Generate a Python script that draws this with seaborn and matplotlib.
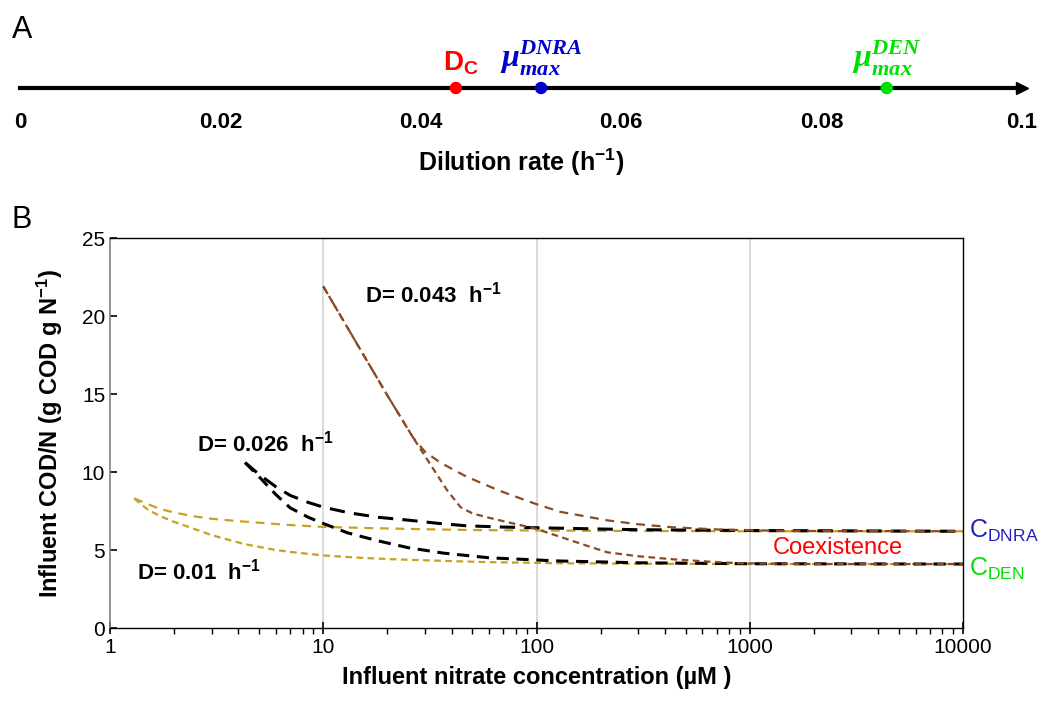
import numpy as np
import pandas as pd
import seaborn as sns
import matplotlib.pyplot as plt
from matplotlib.ticker import LogLocator, NullFormatter

# panel A: dilution rate axis
a_ticks = [0, 0.02, 0.04, 0.06, 0.08, 0.1]
a_tick_labels = ["0", "0.02", "0.04", "0.06", "0.08", "0.1"]
a_points = [0.0435, 0.052, 0.0865]
a_point_colors = ["#ff0000", "#0000cc", "#00e000"]
a_point_labels = [r"$\mathbf{D_C}$", r"$\mathbfit{\mu}_{\mathbfit{max}}^{\mathbfit{DNRA}}$",
                  r"$\mathbfit{\mu}_{\mathbfit{max}}^{\mathbfit{DEN}}$"]

# panel B: curves (upper branch -> C_DNRA, lower branch -> C_DEN)
x_d001_up = [1.3, 1.5, 1.7, 2, 2.5, 3, 4, 5, 7, 10, 20, 30, 50, 100, 300, 1000, 10000]
y_d001_up = [8.3, 7.95, 7.65, 7.4, 7.15, 7.0, 6.85, 6.75, 6.6, 6.48, 6.38, 6.33, 6.28, 6.25, 6.22, 6.2, 6.2]
x_d001_lo = [1.3, 1.5, 1.7, 2, 2.37, 3, 3.5, 4.2, 5, 6, 7, 10, 15, 20, 37, 60, 125, 300, 1000, 10000]
y_d001_lo = [8.3, 7.6, 7.2, 6.8, 6.45, 5.95, 5.7, 5.4, 5.2, 5.0, 4.88, 4.65, 4.5, 4.42, 4.3, 4.22, 4.15, 4.12, 4.1, 4.1]

x_d026_up = [4.3, 5, 6, 7, 8.5, 10, 13, 18, 25.6, 35, 47, 70, 125, 300, 1000, 10000]
y_d026_up = [10.6, 9.85, 9.05, 8.5, 8.05, 7.75, 7.4, 7.1, 6.9, 6.7, 6.55, 6.47, 6.4, 6.3, 6.25, 6.2]
x_d026_lo = [4.3, 5, 6, 7, 8.5, 10, 13, 17.9, 25, 36.6, 60, 125, 300, 1000, 10000]
y_d026_lo = [10.6, 9.7, 8.55, 7.7, 7.1, 6.7, 6.1, 5.6, 5.15, 4.8, 4.5, 4.3, 4.18, 4.12, 4.1]

x_d043_up = [10, 15, 20, 26.4, 30, 35.4, 47, 67, 97, 129, 215, 300, 440, 750, 1500, 10000]
y_d043_up = [21.9, 17.8, 14.9, 12.2, 11.3, 10.6, 9.7, 8.8, 8.0, 7.45, 6.9, 6.65, 6.45, 6.3, 6.22, 6.2]
x_d043_lo = [10, 15, 20, 26.4, 32.8, 38, 44, 50, 58.5, 75, 97, 129, 170, 215, 300, 440, 650, 900, 2000, 10000]
y_d043_lo = [21.9, 17.8, 14.9, 12.2, 10.2, 8.85, 7.75, 7.35, 7.1, 6.75, 6.4, 5.85, 5.3, 4.85, 4.6, 4.4, 4.25, 4.15, 4.1, 4.1]

curve_colors = {"0.01": "#c9a020", "0.026": "#000000", "0.043": "#8b4a22"}

sns.set_theme(style="white", rc={"text.color": "black", "axes.labelcolor": "black",
                                 "xtick.color": "black", "ytick.color": "black"})
plt.rcParams["font.family"] = ["Liberation Sans", "DejaVu Sans"]
plt.rcParams["mathtext.fontset"] = "custom"
plt.rcParams["mathtext.rm"] = "Liberation Sans"
plt.rcParams["mathtext.sf"] = "Liberation Sans"
plt.rcParams["mathtext.it"] = "Liberation Sans:italic"
plt.rcParams["mathtext.bf"] = "Liberation Sans:bold"
plt.rcParams["mathtext.bfit"] = "Liberation Serif:bold:italic"

fig = plt.figure(figsize=(10.45, 7.10), dpi=100)

# ---------- panel A ----------
axA = fig.add_axes([20 / 1045, 1 - 88 / 710, 1002 / 1045, 50 / 710])
axA.set_xlim(0, 0.1)
axA.set_ylim(0, 1)
for s in ["top", "left", "right"]:
    axA.spines[s].set_visible(False)
axA.spines["bottom"].set_linewidth(3)
axA.spines["bottom"].set_color("black")
axA.set_yticks([])
axA.set_xticks(a_ticks)
axA.set_xticklabels(a_tick_labels, fontsize=16, fontweight="bold")
axA.tick_params(axis="x", direction="out", length=5, width=2, color="black", pad=12)
axA.plot([0.1], [0], marker=">", color="black", markersize=9, clip_on=False,
         transform=axA.get_xaxis_transform())
dfA = pd.DataFrame({"x": a_points, "y": [0] * 3, "c": a_point_labels})
sns.scatterplot(data=dfA, x="x", y="y", hue="c", palette=a_point_colors, s=80,
                ax=axA, legend=False, clip_on=False, zorder=5, edgecolor="none")
axA.text(a_points[0] + 0.0005, 0.22, a_point_labels[0], color=a_point_colors[0],
         fontsize=20, ha="center", va="bottom")
axA.text(a_points[1], 0.2, a_point_labels[1], color=a_point_colors[1],
         fontsize=23, ha="center", va="bottom")
axA.text(a_points[2], 0.2, a_point_labels[2], color=a_point_colors[2],
         fontsize=23, ha="center", va="bottom")
axA.set_xlabel("Dilution rate (h$^{\\mathbf{-1}}$)", fontsize=18, fontweight="bold", labelpad=10)
axA.set_ylabel("")
fig.text(12 / 1045, 1 - 38 / 710, "A", fontsize=22)

# ---------- panel B ----------
axB = fig.add_axes([110 / 1045, 1 - 628 / 710, 853 / 1045, 390 / 710])
curves = [
    (x_d001_up, y_d001_up, "0.01", (4, 3), 1.6),
    (x_d001_lo, y_d001_lo, "0.01", (3, 2), 1.6),
    (x_d026_up, y_d026_up, "0.026", (5, 3), 2.2),
    (x_d026_lo, y_d026_lo, "0.026", (4, 2.5), 2.2),
    (x_d043_up, y_d043_up, "0.043", (4, 3), 1.6),
    (x_d043_lo, y_d043_lo, "0.043", (3, 2), 1.6),
]
for xs, ys, d, dash, lw in curves:
    sns.lineplot(x=xs, y=ys, ax=axB, color=curve_colors[d], sort=False,
                 estimator=None, lw=lw, dashes=False, linestyle=(0, dash))

axB.set_xscale("log")
axB.set_xlim(1, 10000)
axB.set_ylim(0, 25)
axB.set_xticks([1, 10, 100, 1000, 10000])
axB.set_xticklabels(["1", "10", "100", "1000", "10000"], fontsize=15)
axB.xaxis.set_minor_locator(LogLocator(base=10, subs=np.arange(2, 10)))
axB.xaxis.set_minor_formatter(NullFormatter())
axB.set_yticks([0, 5, 10, 15, 20, 25])
axB.set_yticklabels(["0", "5", "10", "15", "20", "25"], fontsize=15)
axB.tick_params(axis="x", which="major", direction="inout", length=8, width=1.2, bottom=True)
axB.tick_params(axis="x", which="minor", direction="out", length=4, width=1, bottom=True)
axB.tick_params(axis="y", direction="in", length=5, width=1.2, left=True)
axB.grid(False)
for xv in [10, 100, 1000]:
    axB.axvline(xv, color="#d3d3d3", lw=1.2, zorder=0)
for s in ["top", "right", "bottom"]:
    axB.spines[s].set_color("black")
    axB.spines[s].set_linewidth(1.0)
axB.spines["left"].set_color("#808080")
axB.spines["left"].set_linewidth(1.2)

axB.set_xlabel("Influent nitrate concentration (\u00b5M )", fontsize=17, fontweight="bold", labelpad=6)
axB.set_ylabel("Influent COD/N (g COD g N$^{\\mathbf{-1}}$)", fontsize=17, fontweight="bold", labelpad=12)

axB.text(15.7, 21.4, "D= 0.043  h$^{\\mathbf{-1}}$", fontsize=16, fontweight="bold", va="center")
axB.text(2.56, 11.85, "D= 0.026  h$^{\\mathbf{-1}}$", fontsize=16, fontweight="bold", va="center")
axB.text(1.34, 3.6, "D= 0.01  h$^{\\mathbf{-1}}$", fontsize=16, fontweight="bold", va="center")
axB.text(2600, 5.13, "Coexistence", fontsize=17, color="#ff0000", ha="center", va="center")
axB.text(10700, 6.2, "C$_{\\mathrm{DNRA}}$", fontsize=18, color="#2020c0", va="center", clip_on=False)
axB.text(10700, 3.8, "C$_{\\mathrm{DEN}}$", fontsize=18, color="#00e000", va="center", clip_on=False)
fig.text(12 / 1045, 1 - 228 / 710, "B", fontsize=22)

fig.savefig("out.png", dpi=100)
